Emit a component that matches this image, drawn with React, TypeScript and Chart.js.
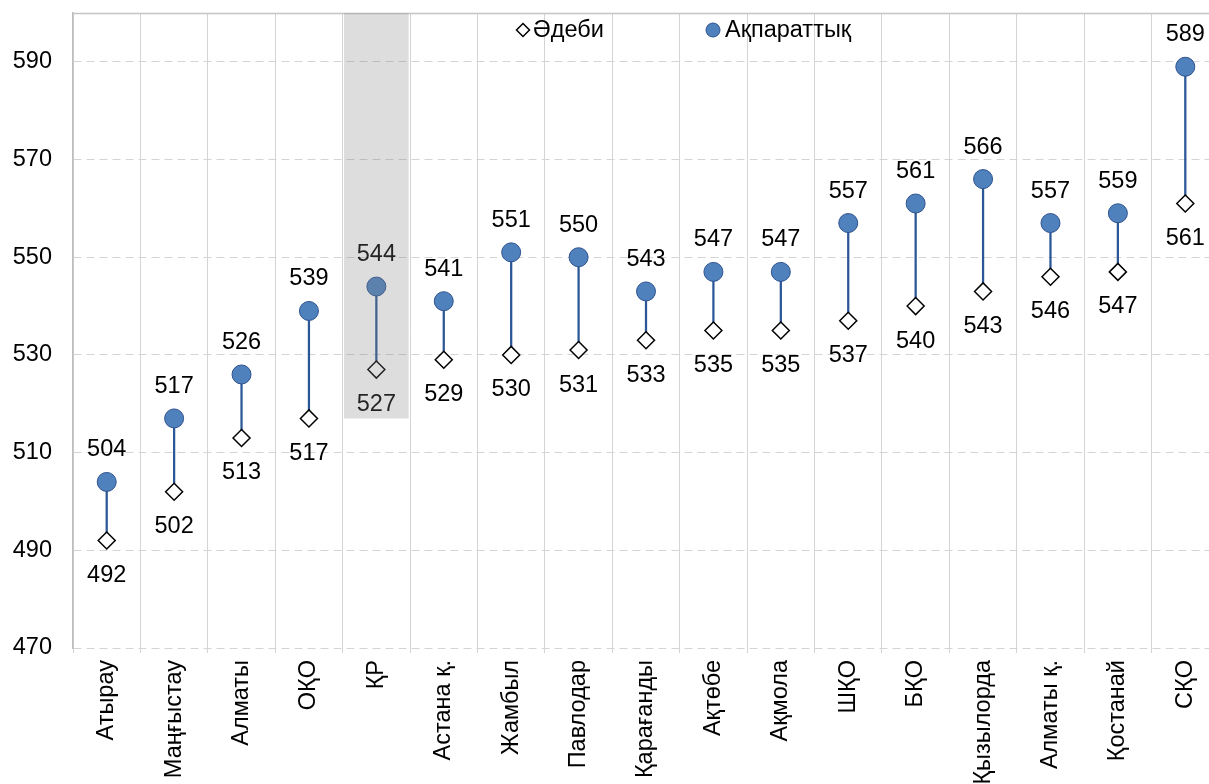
import React, { useEffect, useRef } from 'react';
import { Chart, registerables } from 'chart.js';

Chart.register(...registerables);

const categories = [
  'Атырау', 'Маңғыстау', 'Алматы', 'ОҚО', 'ҚР', 'Астана қ.', 'Жамбыл', 'Павлодар',
  'Қарағанды', 'Ақтөбе', 'Ақмола', 'ШҚО', 'БҚО', 'Қызылорда', 'Алматы қ.', 'Қостанай', 'СҚО',
];
const informational = [504, 517, 526, 539, 544, 541, 551, 550, 543, 547, 547, 557, 561, 566, 557, 559, 589];
const literary = [492, 502, 513, 517, 527, 529, 530, 531, 533, 535, 535, 537, 540, 543, 546, 547, 561];
const yTicks = [470, 490, 510, 530, 550, 570, 590];
const yMin = 470;
const yMax = 600;
const highlightCategory = 'ҚР';
const highlightRange = [517, 600];
const seriesNames = ['Әдеби', 'Ақпараттық'];

const FONT = "'Liberation Sans', Arial, sans-serif";
const FS = 23.5;

const labelPlugin = {
  id: 'valueLabels',
  afterDatasetDraw(chart: any, args: any) {
    const ds: any = chart.data.datasets[args.index];
    const pos = ds.labelPos;
    if (!pos) return;
    const ctx = chart.ctx;
    ctx.save();
    ctx.font = `${FS}px ${FONT}`;
    ctx.fillStyle = '#000';
    ctx.textAlign = 'center';
    ctx.textBaseline = 'middle';
    args.meta.data.forEach((el: any, i: number) => {
      const v = ds.data[i];
      ctx.fillText(String(v), el.x, pos === 'above' ? el.y - 32 : el.y + 35);
    });
    ctx.restore();
  },
};

const framePlugin = {
  id: 'frame',
  beforeDatasetsDraw(chart: any) {
    const { ctx, chartArea } = chart;
    ctx.save();
    ctx.strokeStyle = '#c4c4c4';
    ctx.lineWidth = 1.5;
    ctx.beginPath();
    ctx.moveTo(chartArea.left, chartArea.top + 0.5);
    ctx.lineTo(chartArea.right, chartArea.top + 0.5);
    ctx.stroke();
    ctx.restore();
  },
};

const legendPlugin = {
  id: 'innerLegend',
  afterDraw(chart: any) {
    const ctx = chart.ctx;
    const y = 30;
    ctx.save();
    const dx = 523;
    ctx.beginPath();
    ctx.moveTo(dx, y - 6.5);
    ctx.lineTo(dx + 6.5, y);
    ctx.lineTo(dx, y + 6.5);
    ctx.lineTo(dx - 6.5, y);
    ctx.closePath();
    ctx.fillStyle = '#fff';
    ctx.fill();
    ctx.strokeStyle = '#000';
    ctx.lineWidth = 1.5;
    ctx.stroke();
    const cx = 713;
    ctx.beginPath();
    ctx.arc(cx, y, 7, 0, Math.PI * 2);
    ctx.fillStyle = '#4f81bd';
    ctx.fill();
    ctx.strokeStyle = '#2f528f';
    ctx.lineWidth = 1;
    ctx.stroke();
    ctx.font = `${FS}px ${FONT}`;
    ctx.fillStyle = '#000';
    ctx.textAlign = 'left';
    ctx.textBaseline = 'middle';
    ctx.fillText(seriesNames[0], 533, y + 1);
    ctx.fillText(seriesNames[1], 725, y + 1);
    ctx.restore();
  },
};

export default function App() {
  const ref = useRef<HTMLCanvasElement | null>(null);

  useEffect(() => {
    if (!ref.current) return;
    const chart = new Chart(ref.current, {
      type: 'bar',
      data: {
        labels: categories,
        datasets: [
          {
            type: 'bar',
            label: 'highlight',
            data: categories.map((c) => (c === highlightCategory ? highlightRange : null)) as any,
            backgroundColor: 'rgba(128,128,128,0.27)',
            borderWidth: 0,
            grouped: false,
            barPercentage: 0.96,
            categoryPercentage: 1,
            order: 0,
          } as any,
          {
            type: 'bar',
            label: 'connector',
            data: categories.map((_, i) => [literary[i], informational[i]]) as any,
            backgroundColor: '#2b5796',
            borderWidth: 0,
            grouped: false,
            barThickness: 1.6,
            order: 3,
          } as any,
          {
            type: 'line',
            label: seriesNames[1],
            data: informational,
            showLine: false,
            pointStyle: 'circle',
            pointRadius: 9.5,
            pointBorderWidth: 1,
            pointBackgroundColor: '#4f81bd',
            pointBorderColor: '#2f528f',
            order: 1,
            labelPos: 'above',
          } as any,
          {
            type: 'line',
            label: seriesNames[0],
            data: literary,
            showLine: false,
            pointStyle: 'rectRot',
            pointRadius: 8.5,
            pointBorderWidth: 1.5,
            pointBackgroundColor: '#ffffff',
            pointBorderColor: '#000000',
            order: 2,
            labelPos: 'below',
          } as any,
        ],
      },
      options: {
        responsive: false,
        animation: false,
        devicePixelRatio: 1,
        layout: { padding: { top: 13, left: 0, right: 0, bottom: 0 }, autoPadding: false },
        plugins: {
          legend: { display: false },
          tooltip: { enabled: false },
        },
        scales: {
          x: {
            offset: true,
            grid: {
              offset: true,
              color: '#d4d4d4',
              lineWidth: 1,
              drawTicks: true,
              tickLength: 5,
            },
            border: { display: false },
            ticks: {
              minRotation: 90,
              maxRotation: 90,
              autoSkip: false,
              padding: 7,
              color: '#000',
              font: { family: FONT, size: FS },
            },
            afterFit: (s: any) => {
              s.height = 136;
              s.paddingLeft = 0;
              s.paddingRight = 0;
            },
          },
          y: {
            min: yMin,
            max: yMax,
            afterBuildTicks: (s: any) => {
              s.ticks = yTicks.map((v) => ({ value: v }));
            },
            grid: { color: '#d4d4d4', lineWidth: 1, drawTicks: false },
            border: { display: true, color: '#bdbdbd', width: 1.5, dash: [8, 5] },
            ticks: {
              padding: 21,
              color: '#000',
              font: { family: FONT, size: FS },
            },
            afterFit: (s: any) => {
              s.width = 73;
              s.paddingTop = 0;
              s.paddingBottom = 0;
            },
          },
        },
      } as any,
      plugins: [labelPlugin, framePlugin, legendPlugin],
    });
    return () => chart.destroy();
  }, []);

  return (
    <div
      style={{
        position: 'fixed',
        left: 0,
        top: 0,
        width: 1209,
        height: 784,
        overflow: 'hidden',
        background: '#fff',
      }}
    >
      <canvas ref={ref} width={1219} height={784} style={{ display: 'block', width: 1219, height: 784 }} />
    </div>
  );
}
